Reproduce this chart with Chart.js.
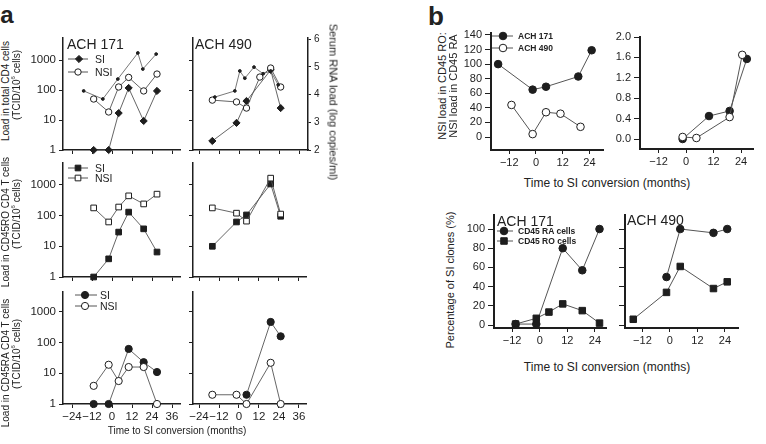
<!DOCTYPE html>
<html>
<head>
<meta charset="utf-8">
<script src="https://cdn.jsdelivr.net/npm/chart.js@4.4.1/dist/chart.umd.min.js"></script>
<style>
body{margin:0;width:766px;height:444px;position:relative;overflow:hidden;background:#fff;font-family:"Liberation Sans",Arial,sans-serif;color:#222}
canvas{position:absolute}
.t{position:absolute;white-space:nowrap;line-height:1}
</style>
</head>
<body>
<script>
// ---- panel a : months to SI conversion
const monthsA171 = [-11, -2, 4, 10, 19, 27];
const monthsA490 = [-16, -1.5, 4.5, 12.5, 19, 25];
const xTicksA = [-24, -12, 0, 12, 24, 36];
const logTicks = [1, 10, 100, 1000];
const rnaTicks = [2, 3, 4, 5, 6];

// load in total CD4 cells
const totalSI171 = [1, 1, 17, 117, 9.3, 93];
const totalNSI171 = [50, 18.5, 126, 263, 93, 340];
const totalSI490 = [2, 8, 43, null, 464, 25];
const totalNSI490 = [46, 40, 25, 270, 540, 126];
// serum RNA load (log copies/ml)
const rnaMonths171 = [-17, -5.5, 3.5, 15.5, 18.5, 26.5];
const rna171 = [4.13, 3.84, 4.56, 5.5, 4.92, 5.46];
const rnaMonths490 = [-14.5, -2.5, 0.5, 3.5, 9, 14.5, 19, 23.5];
const rna490 = [3.91, 4.13, 4.85, 4.59, 4.99, 4.75, 4.85, 4.35];
// load in CD45RO CD4 T cells
const roSI171 = [1, 3.9, 29, 130, 37, 6.5];
const roNSI171 = [178, 62, 190, 440, 240, 500];
const roSI490 = [10, 62, 105, null, 1070, 95];
const roNSI490 = [178, 120, 66, null, 1660, 112];
// load in CD45RA CD4 T cells
const raSI171 = [1, 1, null, 62, 23, 11];
const raNSI171 = [3.9, 19, 5.6, 16, 16, 1];
const raSI490 = [null, null, 2, null, 470, 160];
const raNSI490 = [2, 2, 1, null, 22, 1];

// ---- panel b
const xTicksB = [-12, 0, 12, 24];
const ratioMonths171 = [-17, -1.5, 4.5, 19, 25];
const ratio171 = [100, 65, 69, 83, 119];
const ratioMonths490 = [-11, -1.5, 4.5, 11, 20];
const ratio490 = [44, 4, 34, 32, 14];
const siRatioMonths171 = [-1.5, 10, 19, 26.5];
const siRatio171 = [0, 0.45, 0.55, 1.57];
const siRatioMonths490 = [-1.5, 4.5, 19, 24.5];
const siRatio490 = [0.04, 0.02, 0.43, 1.65];
const clonesMonths171 = [-10.5, -1.5, 4, 10, 18.5, 26];
const clonesRA171 = [1, 1, null, 80, 57, 100];
const clonesRO171 = [1, 7, 13.5, 22, 15, 2];
const clonesMonths490 = [-16, -1.5, 4.5, 19, 25];
const clonesRA490 = [null, 50, 100, 96, 100];
const clonesRO490 = [6, 34, 61, 38, 45];

const INK = '#1e1e1e';
const LINE = '#555';

function minus(v) { return v < 0 ? '\u2212' + (-v) : String(v); }

function txt(s, x, y, css, align, rot) {
  const d = document.createElement('div');
  d.className = 't';
  d.innerHTML = s;
  d.style.cssText += css;
  d.style.left = x + 'px';
  d.style.top = y + 'px';
  const tx = align === 'l' ? '0' : '-50%';
  d.style.transform = 'translate(' + tx + ',-50%)' + (rot ? ' rotate(' + rot + 'deg)' : '');
  if (rot) d.style.transformOrigin = '50% 50%';
  document.body.appendChild(d);
}

function xScale(min, max, ticks, labels, size, bw) {
  return {
    type: 'linear', min, max,
    afterBuildTicks: s => { s.ticks = ticks.map(v => ({ value: v })); },
    ticks: { display: labels, color: INK, padding: 2, maxRotation: 0, autoSkip: false,
      font: { family: 'Liberation Sans', size }, callback: v => minus(v) },
    grid: { drawOnChartArea: false, drawTicks: true, tickLength: 4, color: INK, lineWidth: 1 },
    border: { color: INK, width: bw }
  };
}

function yScale(type, min, max, ticks, labels, size, bw, fmt, tl) {
  return {
    type, min, max,
    afterBuildTicks: s => { s.ticks = ticks.map(v => ({ value: v })); },
    ticks: { display: labels, color: INK, padding: 3, autoSkip: false,
      font: { family: 'Liberation Sans', size }, callback: fmt || (v => String(v)) },
    grid: { drawOnChartArea: false, drawTicks: true, tickLength: tl || 4, color: INK, lineWidth: 1 },
    border: { color: INK, width: bw }
  };
}

function series(xs, ys, style, filled, r, axis, lw) {
  return {
    data: xs.map((x, i) => ({ x, y: ys[i] })),
    yAxisID: axis || 'y',
    borderColor: LINE, borderWidth: lw || 0.9,
    pointStyle: style, pointRadius: r,
    pointBackgroundColor: filled ? INK : '#fff',
    pointBorderColor: INK, pointBorderWidth: 1,
    spanGaps: true, clip: false, tension: 0
  };
}

function drawKey(ctx, k) {
  ctx.save();
  ctx.strokeStyle = LINE; ctx.lineWidth = 1;
  ctx.beginPath(); ctx.moveTo(k.x1, k.y); ctx.lineTo(k.x2, k.y); ctx.stroke();
  ctx.restore();
  ctx.save();
  ctx.fillStyle = k.filled ? INK : '#fff';
  ctx.strokeStyle = INK;
  Chart.helpers.drawPoint(ctx, { pointStyle: k.style, radius: k.r, borderWidth: 1, rotation: 0 },
    k.mx, k.y);
  ctx.restore();
}

function panel(c, p, scales, datasets, keys) {
  const cv = document.createElement('canvas');
  cv.width = c[2]; cv.height = c[3];
  cv.style.left = c[0] + 'px'; cv.style.top = c[1] + 'px';
  document.body.appendChild(cv);
  const yW = p[0] - c[0];
  const xH = c[1] + c[3] - p[3];
  const rW = c[0] + c[2] - p[2];
  scales.x.afterFit = s => { s.height = xH; };
  scales.y.afterFit = s => { s.width = yW; };
  if (scales.y2) scales.y2.afterFit = s => { s.width = rW; };
  new Chart(cv, {
    type: 'line',
    data: { datasets },
    options: {
      responsive: false, animation: false, events: [],
      layout: { padding: { top: p[1] - c[1], left: 0, bottom: 0, right: scales.y2 ? 0 : rW } },
      plugins: { legend: { display: false }, tooltip: { enabled: false } },
      scales
    },
    plugins: [{
      id: 'keys',
      afterDraw(ch) {
        (keys || []).forEach(k => {
          drawKey(ch.ctx, { x1: k.x1 - c[0], x2: k.x2 - c[0], mx: k.mx - c[0], y: k.y - c[1],
            style: k.style, r: k.r, filled: k.filled });
        });
      }
    }]
  });
}

// ================= panel a =================
const maxTop = Math.pow(10, 112 / 30);
const maxMid = Math.pow(10, 114 / 30.7);
const maxBot = Math.pow(10, 112 / 30.7);
const logFmt = v => String(v);
const FA = 11.5;

// row 1 - total CD4 (left axis) + serum RNA (right axis)
panel([22, 24, 164, 138], [63, 38, 180, 150], {
  x: xScale(-29.4, 40.8, xTicksA, false, FA, 1.5),
  y: yScale('logarithmic', 1, maxTop, logTicks, true, FA, 1.5, logFmt),
  y3: { type: 'linear', display: false, min: 2, max: 6.04 }
}, [
  series(rnaMonths171, rna171, 'circle', true, 1.4, 'y3', 0.8),
  series(monthsA171, totalNSI171, 'circle', false, 3.2),
  series(monthsA171, totalSI171, 'rectRot', true, 3.6)
], [
  { x1: 68, x2: 88, mx: 79, y: 59, style: 'rectRot', r: 3.6, filled: true },
  { x1: 68, x2: 88, mx: 78, y: 72, style: 'circle', r: 3.2, filled: false }
]);

panel([186, 24, 146, 138], [193, 38, 308, 150], {
  x: xScale(-27.6, 41.4, xTicksA, false, FA, 1.5),
  y: yScale('logarithmic', 1, maxTop, logTicks, false, FA, 1.5, logFmt),
  y2: Object.assign(yScale('linear', 2, 6.04, rnaTicks, true, 10, 1.5, null, 3), { position: 'right' })
}, [
  series(rnaMonths490, rna490, 'circle', true, 1.4, 'y2', 0.8),
  series(monthsA490, totalNSI490, 'circle', false, 3.2),
  series(monthsA490, totalSI490, 'rectRot', true, 3.6)
]);

// row 2 - CD45RO
panel([22, 150, 164, 139], [63, 163, 180, 277], {
  x: xScale(-29.4, 40.8, xTicksA, false, FA, 1.5),
  y: yScale('logarithmic', 1, maxMid, logTicks, true, FA, 1.5, logFmt)
}, [
  series(monthsA171, roNSI171, 'rect', false, 4),
  series(monthsA171, roSI171, 'rect', true, 4)
], [
  { x1: 68, x2: 88, mx: 78, y: 168, style: 'rect', r: 4, filled: true },
  { x1: 68, x2: 88, mx: 78, y: 178, style: 'rect', r: 4, filled: false }
]);

panel([186, 150, 126, 139], [193, 163, 306, 277], {
  x: xScale(-27.6, 40.2, xTicksA, false, FA, 1.5),
  y: yScale('logarithmic', 1, maxMid, logTicks, false, FA, 1.5, logFmt)
}, [
  series(monthsA490, roNSI490, 'rect', false, 4),
  series(monthsA490, roSI490, 'rect', true, 4)
]);

// row 3 - CD45RA
panel([22, 279, 164, 145], [63, 292, 180, 404], {
  x: xScale(-29.4, 40.8, xTicksA, true, FA, 1.5),
  y: yScale('logarithmic', 1, maxBot, logTicks, true, FA, 1.5, logFmt)
}, [
  series(monthsA171, raNSI171, 'circle', false, 3.6),
  series(monthsA171, raSI171, 'circle', true, 3.6)
], [
  { x1: 75, x2: 97, mx: 85, y: 295, style: 'circle', r: 3.6, filled: true },
  { x1: 75, x2: 97, mx: 85, y: 306, style: 'circle', r: 3.6, filled: false }
]);

panel([186, 279, 134, 145], [193, 292, 306, 404], {
  x: xScale(-27.6, 40.2, xTicksA, true, FA, 1.5),
  y: yScale('logarithmic', 1, maxBot, logTicks, false, FA, 1.5, logFmt)
}, [
  series(monthsA490, raNSI490, 'circle', false, 3.6),
  series(monthsA490, raSI490, 'circle', true, 3.6)
]);

// ================= panel b =================
panel([456, 20, 156, 152], [491, 33, 603, 150], {
  x: xScale(-20.2, 30.1, xTicksB, true, 11, 2),
  y: yScale('linear', -17.8, 142.7, [0, 20, 40, 60, 80, 100, 120, 140], true, 11, 2, null, 6)
}, [
  series(ratioMonths171, ratio171, 'circle', true, 3.8, 'y', 1),
  series(ratioMonths490, ratio490, 'circle', false, 3.8, 'y', 1)
], [
  { x1: 492, x2: 513, mx: 503, y: 36, style: 'circle', r: 3.8, filled: true },
  { x1: 492, x2: 513, mx: 503, y: 48, style: 'circle', r: 3.8, filled: false }
]);

panel([606, 20, 158, 152], [640, 37, 753, 149], {
  x: xScale(-20.1, 29.2, xTicksB, true, 11, 2),
  y: yScale('linear', -0.196, 2.0, [0, 0.4, 0.8, 1.2, 1.6, 2.0], true, 11, 2, v => v.toFixed(1), 6)
}, [
  series(siRatioMonths490, siRatio490, 'circle', false, 3.8, 'y', 1),
  series(siRatioMonths171, siRatio171, 'circle', true, 3.8, 'y', 1)
]);

panel([460, 200, 152, 152], [494, 215, 607, 328], {
  x: xScale(-19.9, 29, xTicksB, true, 11, 2),
  y: yScale('linear', -3.1, 114.6, [0, 20, 40, 60, 80, 100], true, 11, 2, null, 6)
}, [
  series(clonesMonths171, clonesRO171, 'rect', true, 4.6, 'y', 1),
  series(clonesMonths171, clonesRA171, 'circle', true, 3.8, 'y', 1)
], [
  { x1: 497, x2: 513, mx: 504, y: 231, style: 'circle', r: 3.8, filled: true },
  { x1: 497, x2: 513, mx: 504, y: 241, style: 'rect', r: 4.6, filled: true }
]);

panel([600, 200, 150, 152], [625, 215, 738, 328], {
  x: xScale(-19.6, 29.7, xTicksB, true, 11, 2),
  y: yScale('linear', -3.1, 114.6, [0, 20, 40, 60, 80, 100], false, 11, 2, null, 6)
}, [
  series(clonesMonths490, clonesRO490, 'rect', true, 4.6, 'y', 1),
  series(clonesMonths490, clonesRA490, 'circle', true, 3.8, 'y', 1)
]);

// ================= text =================
txt('a', 7, 15, 'font-weight:bold;font-size:24px;');
txt('b', 436, 16, 'font-weight:bold;font-size:26px;');

txt('ACH 171', 67, 44, 'font-size:14px;', 'l');
txt('ACH 490', 195, 44, 'font-size:14px;', 'l');
txt('SI', 95, 59, 'font-size:10.5px;', 'l');
txt('NSI', 95, 72, 'font-size:10.5px;', 'l');
txt('SI', 95, 168, 'font-size:10.5px;', 'l');
txt('NSI', 95, 178, 'font-size:10.5px;', 'l');
txt('SI', 100, 295, 'font-size:10.5px;', 'l');
txt('NSI', 100, 306, 'font-size:10.5px;', 'l');

txt('Load in total CD4 cells', 6, 91, 'font-size:10px;', 'c', -90);
txt('(TCID/10<sup style="font-size:6px">6</sup> cells)', 16, 85, 'font-size:10px;', 'c', -90);
txt('Load in CD45RO CD4 T cells', 6, 222, 'font-size:10px;', 'c', -90);
txt('(TCID/10<sup style="font-size:6px">6</sup> cells)', 16, 214, 'font-size:10px;', 'c', -90);
txt('Load in CD45RA CD4 T cells', 6, 363, 'font-size:10px;', 'c', -90);
txt('(TCID/10<sup style="font-size:6px">6</sup> cells)', 16, 354, 'font-size:10px;', 'c', -90);
txt('Serum RNA load (log copies/ml)', 333, 102, 'font-size:11px;', 'c', 90);
txt('Time to SI conversion (months)', 177, 431, 'font-size:10px;');

txt('NSI load in CD45 RO:', 442, 86, 'font-size:11px;', 'c', -90);
txt('NSI load in CD45 RA', 453, 86, 'font-size:11px;', 'c', -90);
txt('ACH 171', 518, 36, 'font-size:8.5px;font-weight:bold;', 'l');
txt('ACH 490', 518, 48, 'font-size:8.5px;font-weight:bold;', 'l');
txt('Time to SI conversion (months)', 607, 183, 'font-size:12px;');

txt('Percentage of SI clones (%)', 450, 280, 'font-size:11px;', 'c', -90);
txt('ACH 171', 497, 221, 'font-size:14px;', 'l');
txt('ACH 490', 627, 220, 'font-size:14px;', 'l');
txt('CD45 RA cells', 518, 231, 'font-size:8.5px;font-weight:bold;', 'l');
txt('CD45 RO cells', 518, 241, 'font-size:8.5px;font-weight:bold;', 'l');
txt('Time to SI conversion (months)', 607, 367, 'font-size:12px;');
</script>
</body>
</html>
